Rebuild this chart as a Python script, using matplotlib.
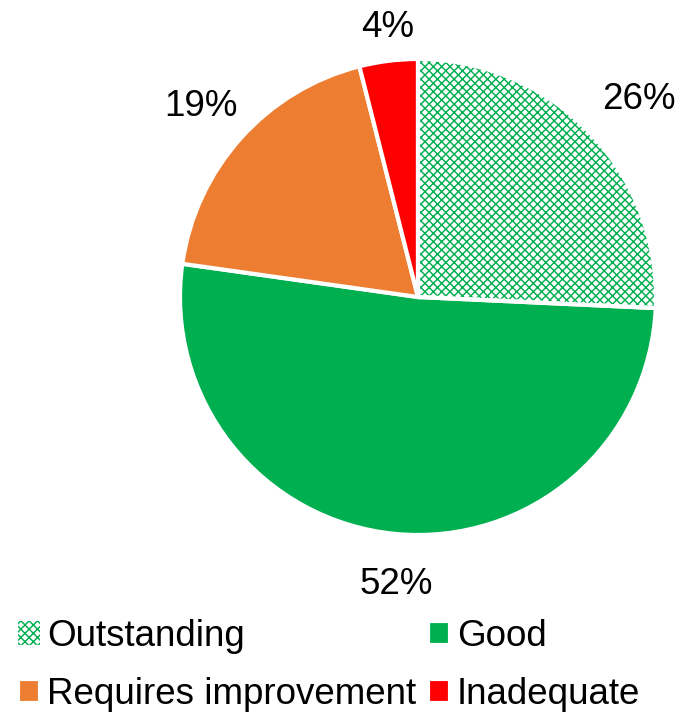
import matplotlib
matplotlib.use("Agg")
import matplotlib.pyplot as plt
import matplotlib.patches as mpatches
import numpy as np

# ratings share
categories = ["Outstanding", "Good", "Requires improvement", "Inadequate"]
shares = [26, 52, 19, 4]
colors = ["#00B050", "#00B050", "#ED7D31", "#FF0000"]

plt.rcParams["font.family"] = "Liberation Sans"
plt.rcParams["hatch.linewidth"] = 1.05
font_size = 26.5

fig = plt.figure(figsize=(6.95, 7.16), dpi=100)
ax = fig.add_axes([180 / 695, 181 / 716, 476 / 695, 476 / 716])

wedges, _ = ax.pie(shares, colors=colors, startangle=90, counterclock=False,
                   radius=1, wedgeprops=dict(edgecolor="white", linewidth=3))
ax.set_xlim(-1, 1)
ax.set_ylim(-1, 1)
ax.set_aspect("equal")
ax.axis("off")

# checkered fill for the first slice
out = wedges[0]
out.set_facecolor("white")
out.set_edgecolor("#00B050")
out.set_linewidth(0)
out.set_hatch("xxxx")
ax.add_patch(mpatches.Wedge(out.center, out.r, out.theta1, out.theta2,
                            fill=False, edgecolor="white", linewidth=3))

# percentage labels just outside each slice
fig.canvas.draw()
renderer = fig.canvas.get_renderer()
px_per_unit = ax.transData.transform((1, 0))[0] - ax.transData.transform((0, 0))[0]
for w, v in zip(wedges, shares):
    mid = np.deg2rad((w.theta1 + w.theta2) / 2)
    t = ax.text(0, 0, f"{v}%", fontsize=font_size, ha="center", va="center")
    bb = t.get_window_extent(renderer)
    hw = bb.width / 2 / px_per_unit
    hh = bb.height / 2 / px_per_unit
    d = 1 + 0.09 + hw * abs(np.cos(mid)) + hh * abs(np.sin(mid))
    t.set_position((d * np.cos(mid) + 0.02, d * np.sin(mid) - 0.035))

order = [0, 2, 1, 3]
fig.legend([wedges[i] for i in order], [categories[i] for i in order],
           ncol=2, loc="upper left", bbox_to_anchor=(18 / 695, 1 - 619 / 716),
           frameon=False, fontsize=font_size, handlelength=0.6, handleheight=0.6,
           handletextpad=0.2, columnspacing=0.3, labelspacing=0.62,
           borderpad=0, borderaxespad=0)

fig.savefig("out.png", dpi=100, facecolor="white")
